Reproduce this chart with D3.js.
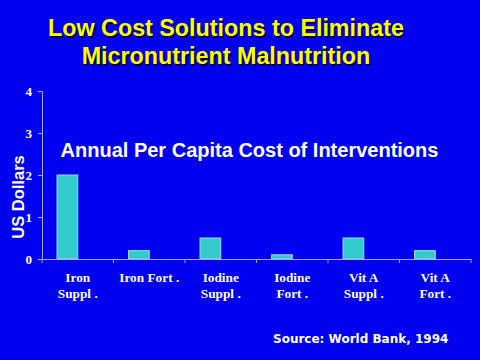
<!DOCTYPE html>
<html>
<head>
<meta charset="utf-8">
<script src="https://cdn.jsdelivr.net/npm/d3@7"></script>
<style>
  body { margin: 0; background: #0000f0; }
</style>
</head>
<body>
<script>
// chart data
var categories = ["Iron Suppl .", "Iron Fort .", "Iodine Suppl .", "Iodine Fort .", "Vit A Suppl .", "Vit A Fort ."];
var catLines = [["Iron", "Suppl ."], ["Iron Fort ."], ["Iodine", "Suppl ."], ["Iodine", "Fort ."], ["Vit A", "Suppl ."], ["Vit A", "Fort ."]];
var costs = [2.0, 0.2, 0.5, 0.1, 0.5, 0.2];
var yTicks = [0, 1, 2, 3, 4];

var width = 480,
    height = 360,
    margin = { top: 91, right: 9, bottom: 101, left: 42 },
    bg = "#0000f0", axisColor = "#a8a8f0", barColor = "#33cccc";

var svg = d3.select("body").append("svg")
    .attr("width", width)
    .attr("height", height)
    .style("font-family", "'Liberation Sans', Arial, sans-serif");

svg.append("rect").attr("width", width).attr("height", height).attr("fill", bg);

var innerW = width - margin.left - margin.right,
    innerH = height - margin.top - margin.bottom;

var g = svg.append("g").attr("transform", `translate(${margin.left},${margin.top})`);

var xScale0 = d3.scaleBand().domain(categories).range([0, innerW]);
// two slots per category, only the first carries a bar
var xScale1 = d3.scaleBand().domain(["cost", "none"])
    .range([xScale0.bandwidth() * 0.21, xScale0.bandwidth() * 0.79]);
var yScale = d3.scaleLinear().domain([0, 4]).range([innerH, 0]);

// title
var title = svg.append("g")
    .attr("font-weight", "bold")
    .attr("font-size", 23.3)
    .attr("text-anchor", "middle");
[["Low Cost Solutions to Eliminate", 36], ["Micronutrient Malnutrition", 64]].forEach(function (t) {
    title.append("text").attr("x", 226).attr("y", t[1]).attr("dx", 1.5).attr("dy", 1.5)
        .attr("fill", "#000040").text(t[0]);
    title.append("text").attr("x", 226).attr("y", t[1]).attr("fill", "#ffff00").text(t[0]);
});

// bars
g.selectAll(".bar")
    .data(costs)
    .enter().append("rect")
    .attr("class", "bar")
    .attr("x", (d, i) => xScale0(categories[i]) + xScale1("cost"))
    .attr("y", d => yScale(d))
    .attr("width", xScale1.bandwidth())
    .attr("height", d => innerH - yScale(d))
    .attr("fill", barColor)
    .attr("stroke", "#a0d8f0")
    .attr("stroke-width", 1);

// y axis
var yAxis = d3.axisLeft(yScale).tickValues(yTicks).tickFormat(d3.format("d")).tickSize(4).tickSizeOuter(0);
var yG = g.append("g").call(yAxis);
yG.select(".domain").attr("stroke", axisColor);
yG.selectAll(".tick line").attr("stroke", axisColor);
yG.selectAll(".tick text")
    .attr("fill", "#ffffff")
    .attr("font-family", "'Liberation Serif', 'Times New Roman', serif")
    .attr("font-weight", "bold")
    .attr("font-size", 13)
    .attr("x", -10);

// x axis
var xAxis = d3.axisBottom(xScale0).tickSize(0).tickSizeOuter(0).tickFormat("");
var xG = g.append("g").attr("transform", `translate(0,${innerH})`).call(xAxis);
xG.select(".domain").attr("stroke", axisColor);
xG.selectAll(".tick").remove();
xG.selectAll(".sep")
    .data(categories.concat(["end"]))
    .enter().append("line")
    .attr("class", "sep")
    .attr("x1", (d, i) => i < categories.length ? xScale0(d) : innerW)
    .attr("x2", (d, i) => i < categories.length ? xScale0(d) : innerW)
    .attr("y1", 0).attr("y2", 4)
    .attr("stroke", axisColor);

// category labels
var labels = g.append("g")
    .attr("fill", "#ffffff")
    .attr("font-family", "'Liberation Serif', 'Times New Roman', serif")
    .attr("font-weight", "bold")
    .attr("font-size", 13.3)
    .attr("text-anchor", "middle");
labels.selectAll("text")
    .data(catLines)
    .enter().append("text")
    .attr("transform", (d, i) => `translate(${xScale0(categories[i]) + xScale0.bandwidth() / 2},${innerH + 23})`)
    .selectAll("tspan")
    .data(d => d)
    .enter().append("tspan")
    .attr("x", 0)
    .attr("y", (d, i) => i * 16)
    .text(d => d);

// y axis label
svg.append("text")
    .attr("transform", "translate(24,197) rotate(-90)")
    .attr("text-anchor", "middle")
    .attr("fill", "#ffffff")
    .attr("font-weight", "bold")
    .attr("font-size", 16.5)
    .text("US Dollars");

// subtitle inside plot
svg.append("text")
    .attr("x", 249.5)
    .attr("y", 157)
    .attr("text-anchor", "middle")
    .attr("fill", "#ffffff")
    .attr("font-weight", "bold")
    .attr("font-size", 20)
    .text("Annual Per Capita Cost of Interventions");

// source note
svg.append("text")
    .attr("x", 273)
    .attr("y", 343)
    .attr("fill", "#ffffff")
    .attr("font-family", "'DejaVu Sans', Verdana, sans-serif")
    .attr("font-weight", "bold")
    .attr("font-size", 12)
    .text("Source: World Bank, 1994");
</script>
</body>
</html>
